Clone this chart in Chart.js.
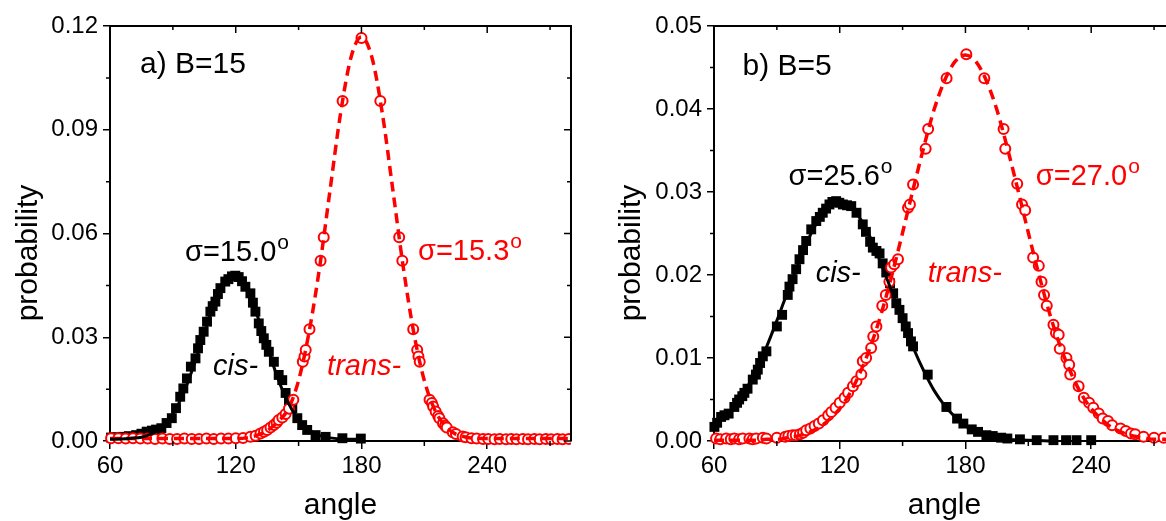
<!DOCTYPE html>
<html><head><meta charset="utf-8">
<script src="https://cdn.jsdelivr.net/npm/chart.js@4.4.0/dist/chart.umd.min.js"></script>
<style>
html,body{margin:0;padding:0;background:#fff;overflow:hidden;width:1166px;height:521px;}
#wa{position:absolute;left:0;top:0;width:586px;height:521px;}
#wb{position:absolute;left:586px;top:0;width:604px;height:521px;}
</style></head><body>
<div id="wa"><canvas id="ca" width="586" height="521"></canvas></div>
<div id="wb"><canvas id="cb" width="604" height="521"></canvas></div>
<script>
// ---------- tick values ----------
const xTicks = [60, 120, 180, 240];
const xMinor = [90, 150, 210, 270];
const yTicksA = [0, 0.03, 0.06, 0.09, 0.12];
const yMinorA = [0.015, 0.045, 0.075, 0.105];
const yTicksB = [0, 0.01, 0.02, 0.03, 0.04, 0.05];
const yMinorB = [0.005, 0.015, 0.025, 0.035, 0.045];

// ---------- panel a) B=15 : data [angle, probability] ----------
const cisA = [[60.5,0.0010],[63,0.0011],[66,0.0012],[69,0.0014],[72.5,0.0017],[75,0.0021],[77.5,0.0027],[80,0.0030],[82,0.0033],[84.5,0.0037],[87,0.0052],[89.5,0.0066],[91.5,0.0095],[93.5,0.0128],[95,0.0152],[96.7,0.0181],[98.6,0.0215],[100.8,0.0239],[102,0.0268],[103.1,0.0292],[104.7,0.0316],[106.3,0.0345],[107.9,0.0374],[109,0.0390],[110.3,0.0403],[111.5,0.0425],[112.7,0.0442],[115,0.0461],[116.5,0.0468],[118.2,0.0476],[119.8,0.0478],[121.4,0.0474],[123,0.0462],[124.6,0.0446],[127,0.0427],[128.2,0.0400],[129.4,0.0374],[131,0.0340],[132.2,0.0318],[133.4,0.0297],[134.6,0.0278],[135.8,0.0258],[138.2,0.0229],[140.5,0.0191],[142.2,0.0176],[143.8,0.0139],[145.4,0.0117],[147,0.0095],[149.4,0.0066],[151.7,0.0046],[154.1,0.0032],[158.1,0.0017],[162.9,0.0012],[170.9,0.0008],[179.7,0.0007]];
const transA = [[60.5,0.0008],[64,0.0008],[67.5,0.0007],[71,0.0008],[74.5,0.0007],[78,0.0007],[81.5,0.0006],[85,0.0007],[88.5,0.0006],[92,0.0006],[95.5,0.0007],[99,0.0006],[102.5,0.0006],[106,0.0007],[109.5,0.0006],[113,0.0007],[116.5,0.0007],[120,0.0008],[123.5,0.0009],[127,0.0012],[129.5,0.0015],[131.8,0.0022],[133.5,0.0027],[135,0.0032],[136.6,0.0039],[138.2,0.0046],[139.5,0.0053],[140.5,0.0061],[142.2,0.0068],[143.8,0.0078],[145.4,0.0093],[147.5,0.0119],[152,0.0229],[152.8,0.0244],[153.4,0.0263],[155.2,0.0323],[160.5,0.0521],[162,0.0589],[171,0.0983],[180,0.1165],[189,0.0983],[198,0.0589],[199.5,0.0521],[204.7,0.0323],[206.6,0.0263],[207.2,0.0244],[207.8,0.0229],[212.5,0.0119],[213.6,0.0110],[214.2,0.0100],[215.4,0.0085],[216.6,0.0072],[217.2,0.0066],[218.9,0.0051],[219.9,0.0044],[220.7,0.0039],[223.6,0.0025],[225.1,0.0020],[228.3,0.0013],[229.7,0.0011],[232.5,0.0008],[235,0.0007],[238,0.0006],[240.5,0.0006],[243.5,0.0005],[246,0.0006],[249,0.0005],[251.5,0.0006],[254,0.0005],[257,0.0006],[259.5,0.0005],[262.5,0.0006],[265,0.0005],[268,0.0006],[270.5,0.0005],[273.5,0.0006],[276,0.0005],[279,0.0006]];
// fitted curves
const cisFitA = [[60,0.0005],[65,0.0006],[70,0.0008],[75,0.0011],[80,0.0021],[85,0.0041],[90,0.0078],[95,0.0137],[100,0.0218],[105,0.0312],[110,0.0402],[115,0.0463],[120,0.0479],[125,0.0443],[130,0.0368],[135,0.0274],[140,0.0183],[145,0.0111],[150,0.0061],[155,0.0032],[160,0.0016],[165,0.0009],[170,0.0006],[175,0.0005],[180,0.0005]];
const transFitA = [[60,0.0007],[70,0.0007],[80,0.0007],[90,0.0007],[100,0.0007],[110,0.0007],[120,0.0007],[125,0.0009],[130,0.0016],[135,0.0030],[140,0.0055],[145,0.0092],[150,0.0175],[155,0.0315],[160,0.0501],[165,0.0725],[170,0.0946],[175,0.1109],[180,0.1168],[185,0.1109],[190,0.0946],[195,0.0725],[200,0.0501],[205,0.0312],[210,0.0175],[215,0.0090],[220,0.0043],[225,0.0020],[230,0.0011],[235,0.0008],[240,0.0007],[250,0.0007],[260,0.0007],[270,0.0007],[280,0.0007]];

// ---------- panel b) B=5 ----------
const cisB = [[60.2,0.0017],[61.5,0.0022],[63.4,0.0029],[65,0.0031],[67,0.0033],[69.7,0.0041],[71,0.0046],[72,0.0050],[73.5,0.0054],[74.5,0.0058],[76,0.0063],[78.5,0.0074],[80,0.0080],[80.9,0.0086],[82,0.0094],[83.3,0.0102],[85,0.0108],[90,0.0138],[92.5,0.0152],[95.2,0.0176],[96,0.0186],[97.5,0.0195],[99.2,0.0207],[100.8,0.0219],[102.5,0.0230],[104,0.0241],[106.4,0.0255],[108.8,0.0265],[110.5,0.0270],[111.9,0.0275],[113.5,0.0280],[115.1,0.0285],[116.5,0.0288],[118.3,0.0289],[119.8,0.0287],[121.5,0.0285],[123.5,0.0284],[125.5,0.0283],[128,0.0275],[131,0.0261],[132.5,0.0252],[134.5,0.0240],[135.8,0.0233],[137.5,0.0229],[139,0.0226],[140.5,0.0214],[142.2,0.0203],[144,0.0190],[145.5,0.0178],[147,0.0166],[148.5,0.0158],[150,0.0148],[151.5,0.0138],[152.6,0.0130],[154,0.0120],[155,0.0114],[162,0.0080],[170.9,0.0041],[176,0.0027],[179,0.0021],[183,0.0014],[186,0.0011],[190,0.0007],[193,0.0006],[197,0.0004],[200,0.0003],[206,0.0002],[214,0.0001],[222,0.0001],[228,0.0001],[233,0.0001],[240,0.0001]];
const transB = [[61,0.0003],[63,0.0002],[65.8,0.0003],[68,0.0002],[69.7,0.0003],[72,0.0002],[73.7,0.0003],[76.9,0.0003],[78.5,0.0002],[80.1,0.0003],[83.3,0.0004],[85,0.0003],[90,0.0004],[94,0.0005],[95.5,0.0006],[97.5,0.0007],[99,0.0007],[101,0.0008],[102.5,0.0010],[104,0.0013],[106,0.0015],[108,0.0018],[110,0.0021],[112,0.0025],[114.5,0.0031],[116,0.0035],[118,0.0040],[120,0.0046],[122.3,0.0052],[124,0.0058],[126.3,0.0066],[128,0.0072],[130.3,0.0080],[131,0.0096],[132.6,0.0100],[135,0.0112],[136,0.0126],[137.5,0.0138],[140.3,0.0163],[142,0.0176],[143.7,0.0192],[144.5,0.0209],[146,0.0213],[147.8,0.0219],[152.6,0.0281],[153.5,0.0285],[155,0.0309],[161,0.0352],[162.2,0.0376],[171,0.0437],[180.4,0.0466],[189,0.0437],[198.2,0.0376],[199,0.0352],[204.7,0.0310],[207,0.0285],[208.5,0.0278],[212.3,0.0221],[215,0.0211],[216.3,0.0192],[217.5,0.0176],[218.8,0.0163],[222,0.0140],[223.2,0.0130],[224.5,0.0128],[225,0.0111],[228.2,0.0100],[229.5,0.0092],[230,0.0080],[234,0.0066],[236.5,0.0052],[239,0.0046],[241,0.0040],[243.6,0.0033],[245.5,0.0027],[248,0.0024],[250,0.0019],[254,0.0015],[256.5,0.0012],[259,0.0009],[261,0.0008],[265,0.0005],[270,0.0004],[274.6,0.0004]];
const cisFitB = [[60,0.0018],[65,0.0029],[70,0.0043],[75,0.0061],[80,0.0085],[85,0.0113],[90,0.0145],[95,0.0179],[100,0.0212],[105,0.0243],[110,0.0267],[115,0.0283],[120,0.0288],[125,0.0283],[130,0.0267],[135,0.0243],[140,0.0212],[145,0.0179],[150,0.0145],[155,0.0113],[160,0.0085],[165,0.0061],[170,0.0043],[175,0.0029],[180,0.0018],[185,0.0012],[190,0.0007],[195,0.0004],[200,0.0002],[210,0.0001],[220,0.0000]];
const transFitB = [[60,0.0001],[65,0.0001],[70,0.0001],[75,0.0001],[80,0.0001],[85,0.0002],[90,0.0002],[95,0.0004],[100,0.0006],[105,0.0010],[110,0.0016],[115,0.0026],[120,0.0039],[125,0.0058],[130,0.0084],[135,0.0116],[140,0.0155],[145,0.0201],[150,0.0251],[155,0.0303],[160,0.0353],[165,0.0399],[170,0.0434],[175,0.0457],[180,0.0465],[185,0.0457],[190,0.0434],[195,0.0399],[200,0.0353],[205,0.0303],[210,0.0251],[215,0.0201],[220,0.0155],[225,0.0116],[230,0.0084],[235,0.0058],[240,0.0039],[245,0.0026],[250,0.0016],[255,0.0010],[260,0.0006],[265,0.0004],[270,0.0002],[275,0.0002],[280,0.0001]];

// ---------- drawing ----------
const FONT = "'Liberation Sans', Arial, Helvetica, sans-serif";
const RED = '#ff0000';
const toPts = arr => arr.map(p => ({x: p[0], y: p[1]}));

const framePlugin = {
  id: 'frame',
  afterDraw(chart, args, o) {
    const {ctx, chartArea: {left, right, top, bottom}, scales: {x, y}} = chart;
    ctx.save();
    ctx.strokeStyle = '#000';
    ctx.lineWidth = 2;
    ctx.beginPath();
    ctx.moveTo(left, top); ctx.lineTo(right, top); ctx.lineTo(right, bottom);
    ctx.stroke();
    ctx.lineWidth = 1.5;
    ctx.beginPath();
    o.xMajor.forEach(v => { const p = x.getPixelForValue(v); ctx.moveTo(p, top); ctx.lineTo(p, top + 7); });
    o.xMinor.forEach(v => { const p = x.getPixelForValue(v); ctx.moveTo(p, top); ctx.lineTo(p, top + 4); ctx.moveTo(p, bottom); ctx.lineTo(p, bottom + 5); });
    o.yMajor.forEach(v => { const p = y.getPixelForValue(v); ctx.moveTo(right, p); ctx.lineTo(right - 7, p); });
    o.yMinor.forEach(v => { const p = y.getPixelForValue(v); ctx.moveTo(right, p); ctx.lineTo(right - 4, p); ctx.moveTo(left, p); ctx.lineTo(left - 4, p); });
    ctx.stroke();
    ctx.restore();
  }
};

const notesPlugin = {
  id: 'notes',
  afterDatasetsDraw(chart, args, o) {
    const {ctx, scales: {x, y}} = chart;
    ctx.save();
    ctx.textAlign = 'left';
    ctx.textBaseline = 'alphabetic';
    o.items.forEach(it => {
      const px = x.getPixelForValue(it.x), py = y.getPixelForValue(it.y);
      ctx.font = it.font; ctx.fillStyle = it.color;
      ctx.fillText(it.text, px, py);
      if (it.sup) {
        const w = ctx.measureText(it.text).width;
        ctx.font = "21px " + FONT;
        ctx.fillText(it.sup, px + w + 1, py - 12);
      }
    });
    // vertical axis title
    ctx.font = "30px " + FONT;
    ctx.fillStyle = '#000';
    ctx.textAlign = 'center';
    ctx.textBaseline = 'middle';
    ctx.translate(o.yTitleX, o.yTitleY);
    ctx.rotate(-Math.PI / 2);
    ctx.fillText(o.yTitle, 0, 0);
    ctx.restore();
  }
};

function makeChart(id, cfg) {
  const tickFont = {family: FONT, size: 24};
  return new Chart(document.getElementById(id), {
    type: 'scatter',
    data: {
      datasets: [
        {data: toPts(cfg.cisFit), showLine: true, pointRadius: 0, borderColor: '#000', borderWidth: 3, cubicInterpolationMode: 'monotone', order: 0, clip: {left: 0, right: 0, top: 0, bottom: 3}},
        {data: toPts(cfg.transFit), showLine: true, pointRadius: 0, borderColor: RED, borderWidth: 3.5, borderDash: [10, 6], cubicInterpolationMode: 'monotone', order: 0, clip: {left: 0, right: 0, top: 0, bottom: 3}},
        {data: toPts(cfg.trans), pointStyle: 'circle', pointRadius: 5, borderWidth: 2, borderColor: RED, backgroundColor: '#fff', order: 1, clip: {left: 6, right: 0, top: 6, bottom: 6}},
        {data: toPts(cfg.cis), pointStyle: 'rect', pointRadius: 7, borderWidth: 0, borderColor: '#000', backgroundColor: '#000', order: 2, clip: {left: 6, right: 0, top: 6, bottom: 6}}
      ]
    },
    options: {
      responsive: false,
      animation: false,
      devicePixelRatio: 1,
      events: [],
      layout: {padding: {top: 26, right: 15, bottom: 0, left: 0}},
      scales: {
        x: {
          type: 'linear', min: 60, max: 280,
          afterBuildTicks: s => { s.ticks = xTicks.map(v => ({value: v})); },
          afterFit: s => { s.height = 80; },
          ticks: {color: '#000', font: tickFont, padding: 3, maxRotation: 0, callback: v => String(v)},
          grid: {drawOnChartArea: false, drawTicks: true, tickLength: 8, color: '#000', lineWidth: 1.5},
          border: {display: true, color: '#000', width: 2},
          title: {display: true, text: 'angle', color: '#000', font: {family: FONT, size: 30, lineHeight: 1}, padding: {top: 0, bottom: 0}}
        },
        y: {
          type: 'linear', min: 0, max: cfg.yMax,
          afterBuildTicks: s => { s.ticks = cfg.yTicks.map(v => ({value: v})); },
          afterFit: s => { s.width = cfg.yWidth; },
          ticks: {color: '#000', font: tickFont, padding: 5, callback: v => v.toFixed(2)},
          grid: {drawOnChartArea: false, drawTicks: true, tickLength: 7, color: '#000', lineWidth: 1.5},
          border: {display: true, color: '#000', width: 2}
        }
      },
      plugins: {
        legend: {display: false},
        tooltip: {enabled: false},
        frame: {xMajor: xTicks, xMinor: xMinor, yMajor: cfg.yTicks, yMinor: cfg.yMinor},
        notes: {items: cfg.notes, yTitle: 'probability', yTitleX: cfg.yTitleX, yTitleY: 253}
      }
    },
    plugins: [framePlugin, notesPlugin]
  });
}

const big = "29px " + FONT, ital = "italic 29px " + FONT, lab = "30px " + FONT;

makeChart('ca', {
  cis: cisA, trans: transA, cisFit: cisFitA, transFit: transFitA,
  yMax: 0.12, yTicks: yTicksA, yMinor: yMinorA, yWidth: 110, yTitleX: 29,
  notes: [
    {text: 'a) B=15', x: 74.3, y: 0.1065, font: lab, color: '#000'},
    {text: 'σ=15.0', sup: 'o', x: 95.8, y: 0.0521, font: big, color: '#000'},
    {text: 'cis-', x: 109.2, y: 0.0191, font: ital, color: '#000'},
    {text: 'trans-', x: 163.6, y: 0.0191, font: ital, color: RED},
    {text: 'σ=15.3', sup: 'o', x: 207, y: 0.0523, font: big, color: RED}
  ]
});

makeChart('cb', {
  cis: cisB, trans: transB, cisFit: cisFitB, transFit: transFitB,
  yMax: 0.05, yTicks: yTicksB, yMinor: yMinorB, yWidth: 128, yTitleX: 46,
  notes: [
    {text: 'b) B=5', x: 73.6, y: 0.0441, font: lab, color: '#000'},
    {text: 'σ=25.6', sup: 'o', x: 95.6, y: 0.0309, font: big, color: '#000'},
    {text: 'cis-', x: 108.5, y: 0.0191, font: ital, color: '#000'},
    {text: 'trans-', x: 162, y: 0.0191, font: ital, color: RED},
    {text: 'σ=27.0', sup: 'o', x: 213.6, y: 0.0309, font: big, color: RED}
  ]
});
</script>
</body></html>
